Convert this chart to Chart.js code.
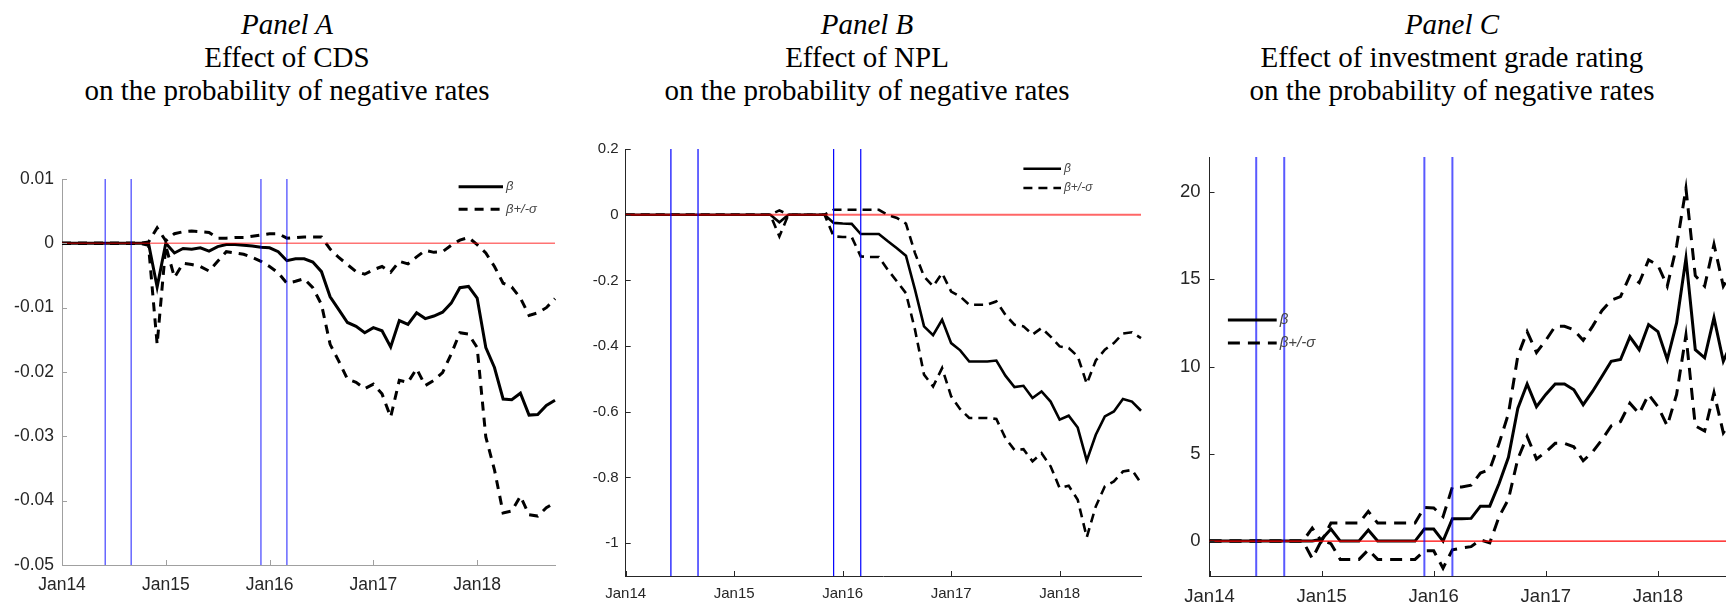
<!DOCTYPE html>
<html>
<head>
<meta charset="utf-8">
<script src="https://cdn.jsdelivr.net/npm/chart.js@4.4.0/dist/chart.umd.min.js"></script>
<style>
  html, body { margin: 0; padding: 0; background: #fff; }
  body { width: 1726px; height: 605px; overflow: hidden; position: relative; }
  canvas { position: absolute; }
  .title {
    position: absolute; top: 8px; width: 600px; text-align: center;
    font-family: 'Liberation Serif', 'Times New Roman', serif;
    font-size: 29px; line-height: 33px; color: #000;
  }
</style>
</head>
<body>
<div class="title" style="left:-13px"><i>Panel A</i><br>Effect of CDS<br>on the probability of negative rates</div>
<div class="title" style="left:567px"><i>Panel B</i><br>Effect of NPL<br>on the probability of negative rates</div>
<div class="title" style="left:1152px"><i>Panel C</i><br>Effect of investment grade rating<br>on the probability of negative rates</div>

<canvas id="chartA" width="560" height="441" style="left:0px;top:164px"></canvas>
<canvas id="chartB" width="581" height="471" style="left:565px;top:134px"></canvas>
<canvas id="chartC" width="597" height="463" style="left:1150px;top:142px"></canvas>

<script>
// months Jan 2014 .. Oct 2018
const monthLabels = [
  'Jan14','Feb14','Mar14','Apr14','May14','Jun14','Jul14','Aug14','Sep14','Oct14','Nov14','Dec14',
  'Jan15','Feb15','Mar15','Apr15','May15','Jun15','Jul15','Aug15','Sep15','Oct15','Nov15','Dec15',
  'Jan16','Feb16','Mar16','Apr16','May16','Jun16','Jul16','Aug16','Sep16','Oct16','Nov16','Dec16',
  'Jan17','Feb17','Mar17','Apr17','May17','Jun17','Jul17','Aug17','Sep17','Oct17','Nov17','Dec17',
  'Jan18','Feb18','Mar18','Apr18','May18','Jun18','Jul18','Aug18','Sep18','Oct18'
];
const xTickLabels = ['Jan14', 'Jan15', 'Jan16', 'Jan17', 'Jan18'];
const rateCutMonths = ['Jun14', 'Sep14', 'Dec15', 'Mar16'];

// Panel A - CDS
const betaA = [
  0, 0, 0, 0, 0, 0, 0, 0, 0, 0,
  0, -0.0068, 0, -0.0015, -0.0008, -0.0009, -0.0007, -0.0012, -0.0005, -0.0002,
  -0.0002, -0.0003, -0.0004, -0.0006, -0.0007, -0.0013, -0.0027, -0.0024, -0.0024, -0.0029,
  -0.0044, -0.0083, -0.0103, -0.0123, -0.0129, -0.0139, -0.0131, -0.0136, -0.0161, -0.0120,
  -0.0126, -0.0108, -0.0117, -0.0113, -0.0107, -0.0093, -0.0069, -0.0067, -0.0085, -0.0162,
  -0.0193, -0.0242, -0.0243, -0.0233, -0.0267, -0.0266, -0.0252, -0.0244
];
const upperA = [
  0, 0, 0, 0, 0, 0, 0, 0, 0, 0,
  0.0002, 0.0024, 0.0004, 0.0015, 0.0018, 0.0019, 0.0018, 0.0017, 0.0008, 0.0008,
  0.0009, 0.0009, 0.0011, 0.0013, 0.0015, 0.0015, 0.0008, 0.0009, 0.0010, 0.0010,
  0.0010, -0.0009, -0.0022, -0.0033, -0.0044, -0.0048, -0.0041, -0.0036, -0.0045, -0.0028,
  -0.0032, -0.0021, -0.0011, -0.0014, -0.0013, -0.0003, 0.0005, 0.0009, -0.0002, -0.0015,
  -0.0036, -0.0062, -0.0068, -0.0085, -0.0112, -0.0108, -0.0100, -0.0086
];
const lowerA = [
  0, 0, 0, 0, 0, 0, 0, 0, 0, 0,
  -0.0003, -0.0157, -0.0004, -0.0053, -0.0031, -0.0033, -0.0036, -0.0043, -0.0028, -0.0013,
  -0.0015, -0.0017, -0.0022, -0.0028, -0.0036, -0.0046, -0.0062, -0.0059, -0.0055, -0.0069,
  -0.0095, -0.0157, -0.0183, -0.0211, -0.0216, -0.0226, -0.0219, -0.0234, -0.0270, -0.0213,
  -0.0216, -0.0195, -0.0221, -0.0213, -0.0201, -0.0172, -0.0139, -0.0141, -0.0162, -0.0301,
  -0.0352, -0.0419, -0.0416, -0.0393, -0.0422, -0.0424, -0.0411, -0.0403
];
const yTicksA = [0.01, 0, -0.01, -0.02, -0.03, -0.04, -0.05];
const yTickLabelsA = ['0.01', '0', '-0.01', '-0.02', '-0.03', '-0.04', '-0.05'];

// Panel B - NPL
const betaB = [
  0, 0, 0, 0, 0, 0, 0, 0, 0, 0,
  0, 0, 0, 0, 0, 0, 0, -0.023, 0, 0,
  0, 0, 0, -0.025, -0.027, -0.028, -0.059, -0.059, -0.059, -0.081,
  -0.102, -0.125, -0.228, -0.340, -0.367, -0.320, -0.391, -0.413, -0.447, -0.447,
  -0.447, -0.444, -0.490, -0.525, -0.521, -0.558, -0.538, -0.569, -0.624, -0.612,
  -0.648, -0.749, -0.670, -0.614, -0.599, -0.561, -0.569, -0.597
];
const upperB = [
  0, 0, 0, 0, 0, 0, 0, 0, 0, 0,
  0, 0, 0, 0, 0, 0, 0, 0.013, 0, 0,
  0, 0, 0, 0.015, 0.015, 0.015, 0.015, 0.015, 0.015, -0.001,
  -0.010, -0.027, -0.117, -0.188, -0.218, -0.178, -0.234, -0.249, -0.274, -0.274,
  -0.274, -0.264, -0.305, -0.335, -0.340, -0.365, -0.345, -0.371, -0.401, -0.406,
  -0.431, -0.515, -0.444, -0.411, -0.391, -0.362, -0.358, -0.376
];
const lowerB = [
  0, 0, 0, 0, 0, 0, 0, 0, 0, 0,
  0, 0, 0, 0, 0, 0, 0, -0.066, 0, 0,
  0, 0, 0, -0.066, -0.068, -0.068, -0.127, -0.129, -0.129, -0.168,
  -0.203, -0.239, -0.350, -0.487, -0.523, -0.467, -0.553, -0.592, -0.619, -0.619,
  -0.619, -0.622, -0.680, -0.716, -0.714, -0.751, -0.726, -0.766, -0.832, -0.825,
  -0.868, -0.982, -0.888, -0.827, -0.812, -0.782, -0.777, -0.817
];
const yTicksB = [0.2, 0, -0.2, -0.4, -0.6, -0.8, -1];
const yTickLabelsB = ['0.2', '0', '-0.2', '-0.4', '-0.6', '-0.8', '-1'];

// Panel C - investment grade rating
const betaC = [
  0, 0, 0, 0, 0, 0, 0, 0, 0, 0,
  0, 0, 0.1, 0.69, 0, 0, 0, 0.63, 0, 0,
  0, 0, 0, 0.69, 0.69, 0, 1.28, 1.28, 1.3, 2.0,
  2.0, 3.3, 4.8, 7.6, 9.0, 7.7, 8.4, 9.0, 9.0, 8.67,
  7.81, 8.57, 9.43, 10.3, 10.4, 11.7, 10.96, 12.4, 12.0, 10.4,
  12.5, 16.2, 10.96, 10.5, 12.8, 10.3, 11.5, 11.0
];
const upperC = [
  0, 0, 0, 0, 0, 0, 0, 0, 0, 0,
  0, 0.74, 0, 1.03, 1.03, 1.03, 1.03, 1.7, 1.03, 1.03,
  1.03, 1.03, 1.03, 1.93, 1.9, 1.4, 3.1, 3.1, 3.2, 3.9,
  4.1, 5.6, 7.3, 10.6, 12.0, 10.8, 11.5, 12.3, 12.3, 12.1,
  11.5, 12.3, 13.2, 13.8, 14.0, 15.2, 14.8, 16.1, 15.8, 14.6,
  16.9, 20.2, 15.2, 14.6, 17.0, 14.6, 15.5, 15.0
];
const lowerC = [
  0, 0, 0, 0, 0, 0, 0, 0, 0, 0,
  0, -1.0, 0.05, -0.15, -1.05, -1.05, -1.05, -0.5, -1.05, -1.05,
  -1.05, -1.05, -1.05, -0.56, -0.55, -1.55, -0.5, -0.4, -0.32, 0.07,
  -0.1, 1.4, 2.4, 4.7, 6.0, 4.7, 5.1, 5.6, 5.6, 5.4,
  4.6, 5.1, 5.8, 6.6, 6.85, 7.9, 7.3, 8.4, 7.7, 6.6,
  8.4, 11.8, 6.6, 6.3, 8.5, 6.2, 7.0, 6.8
];
const yTicksC = [0, 5, 10, 15, 20];
const yTickLabelsC = ['0', '5', '10', '15', '20'];

const tickFont = "'Liberation Sans', Arial, sans-serif";

// small tick marks pointing into the plot, like the original figure
const innerTicks = {
  id: 'innerTicks',
  afterDraw(chart, args, o) {
    const {ctx, chartArea: a, scales: {x, y}} = chart;
    ctx.save();
    ctx.strokeStyle = o.color;
    ctx.lineWidth = 1;
    ctx.beginPath();
    monthLabels.forEach((l, i) => {
      if (!xTickLabels.includes(l)) return;
      const px = Math.round(x.getPixelForValue(i)) + 0.5;
      ctx.moveTo(px, a.bottom);
      ctx.lineTo(px, a.bottom - o.len);
    });
    y.ticks.forEach(t => {
      const py = Math.round(y.getPixelForValue(t.value)) + 0.5;
      ctx.moveTo(a.left, py);
      ctx.lineTo(a.left + o.len, py);
    });
    ctx.stroke();
    ctx.restore();
  }
};

// legend drawn inside the axes
const lineKey = {
  id: 'lineKey',
  afterDraw(chart, args, o) {
    const {ctx, chartArea: a} = chart;
    const x0 = o.fromRight ? a.right - o.dx : a.left + o.dx;
    const items = chart.data.datasets.filter(d => d.label);
    items.forEach((d, i) => {
      const yy = a.top + o.dy + i * o.gap;
      ctx.save();
      ctx.strokeStyle = d.borderColor;
      ctx.lineWidth = d.borderWidth;
      ctx.setLineDash(d.borderDash || []);
      ctx.beginPath();
      ctx.moveTo(x0, yy);
      ctx.lineTo(x0 + o.len, yy);
      ctx.stroke();
      ctx.setLineDash([]);
      ctx.fillStyle = o.color;
      ctx.font = o.font;
      ctx.textBaseline = 'middle';
      ctx.fillText(d.label, x0 + o.len + 3, yy);
      ctx.restore();
    });
  }
};

function buildPanel(id, p) {
  const datasets = [];
  rateCutMonths.forEach(m => datasets.push({
    data: [{x: m, y: p.yMin}, {x: m, y: p.yMax}],
    borderColor: p.blue, borderWidth: p.blueWidth, pointRadius: 0
  }));
  datasets.push({
    data: [{x: monthLabels[0], y: 0}, {x: monthLabels[monthLabels.length - 1], y: 0}],
    borderColor: p.red, borderWidth: p.redWidth, pointRadius: 0
  });
  datasets.push({ label: 'β', data: p.beta, borderColor: '#000', borderWidth: p.lw, pointRadius: 0 });
  datasets.push({ label: 'β+/-σ', data: p.upper, borderColor: '#000', borderWidth: p.lw, borderDash: p.dash, pointRadius: 0 });
  datasets.push({ data: p.lower, borderColor: '#000', borderWidth: p.lw, borderDash: p.dash, pointRadius: 0 });

  new Chart(document.getElementById(id), {
    type: 'line',
    data: { labels: monthLabels, datasets: datasets },
    options: {
      responsive: false,
      animation: false,
      layout: { padding: { top: 15, right: 5, left: 0, bottom: 0 } },
      plugins: {
        legend: { display: false },
        tooltip: { enabled: false },
        innerTicks: { color: p.axisColor, len: 5 },
        lineKey: p.key
      },
      scales: {
        x: {
          type: 'category',
          offset: false,
          grid: { drawOnChartArea: false, drawTicks: false },
          border: { display: true, color: p.axisColor, width: 1 },
          ticks: {
            autoSkip: false, maxRotation: 0, padding: p.xPad,
            color: '#262626', font: { family: tickFont, size: p.fontSize },
            callback: (v, i) => xTickLabels.includes(monthLabels[i]) ? monthLabels[i] : ''
          },
          afterFit: s => { s.height = p.xAxisH; s.paddingLeft = 0; s.paddingRight = 0; }
        },
        y: {
          min: p.yMin, max: p.yMax,
          grid: { drawOnChartArea: false, drawTicks: false },
          border: { display: true, color: p.axisColor, width: 1 },
          afterBuildTicks: s => { s.ticks = p.yTicks.map(v => ({ value: v })); },
          ticks: {
            padding: p.yPad, color: '#262626', font: { family: tickFont, size: p.fontSize },
            callback: (v, i) => p.yTickLabels[i]
          },
          afterFit: s => { s.width = p.yAxisW; s.paddingTop = 0; s.paddingBottom = 0; }
        }
      }
    },
    plugins: [innerTicks, lineKey]
  });
}

buildPanel('chartA', {
  beta: betaA, upper: upperA, lower: lowerA,
  yMin: -0.05, yMax: 0.01, yTicks: yTicksA, yTickLabels: yTickLabelsA,
  yAxisW: 62, xAxisH: 40, xPad: 10, yPad: 8, fontSize: 17.5,
  axisColor: '#a0a0a0', blue: 'rgba(0,0,255,0.6)', blueWidth: 1.5,
  red: 'rgba(255,0,0,0.55)', redWidth: 1.5, lw: 3, dash: [9, 7],
  key: { fromRight: true, dx: 96.4, dy: 7.7, gap: 22.6, len: 44.4, color: '#444', font: "italic 13px 'Liberation Sans', Arial, sans-serif" }
});

buildPanel('chartB', {
  beta: betaB, upper: upperB, lower: lowerB,
  yMin: -1.1, yMax: 0.2, yTicks: yTicksB, yTickLabels: yTickLabelsB,
  yAxisW: 60.7, xAxisH: 29, xPad: 9, yPad: 7, fontSize: 15,
  axisColor: '#262626', blue: '#0000ff', blueWidth: 1.2,
  red: 'rgba(255,0,0,0.6)', redWidth: 2, lw: 2.6, dash: [9, 6],
  key: { fromRight: true, dx: 117.6, dy: 19.7, gap: 19.3, len: 37.6, color: '#444', font: "italic 12px 'Liberation Sans', Arial, sans-serif" }
});

buildPanel('chartC', {
  beta: betaC, upper: upperC, lower: lowerC,
  yMin: -2, yMax: 22, yTicks: yTicksC, yTickLabels: yTickLabelsC,
  yAxisW: 59.5, xAxisH: 29, xPad: 10, yPad: 9, fontSize: 18.5,
  axisColor: '#262626', blue: 'rgba(0,0,255,0.65)', blueWidth: 2,
  red: '#ff0000', redWidth: 1.3, lw: 3, dash: [12, 8],
  key: { fromRight: false, dx: 18.4, dy: 163, gap: 23, len: 48.8, color: '#444', font: "italic 15px 'Liberation Sans', Arial, sans-serif" }
});
</script>
</body>
</html>
